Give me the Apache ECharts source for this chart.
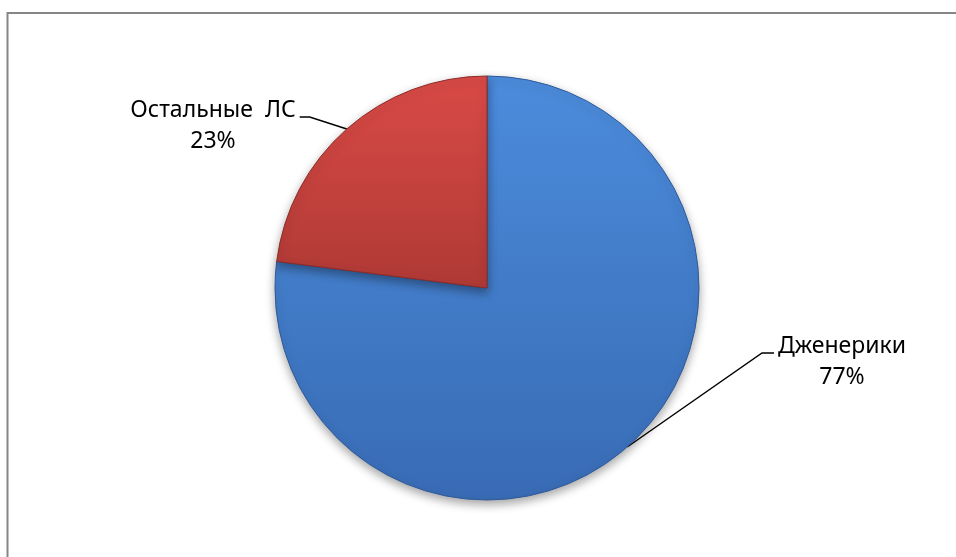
<!DOCTYPE html>
<html>
<head>
<meta charset="utf-8">
<script src="https://cdn.jsdelivr.net/npm/echarts@6/dist/echarts.min.js"></script>
<style>html,body{margin:0;padding:0;background:#fff}#c{width:956px;height:557px}</style>
</head>
<body>
<div id="c"></div>
<script>
const categories = ['Дженерики', 'Остальные  ЛС'];
const values = [77, 23];

const sliceColors = [
  ['#4C8CDC', '#386BB4', '#2F5A9A'],
  ['#D94A46', '#AF3935', '#8E2B28']
];
// label block centres (layout)
const labelCenters = [[842, 362], [213, 126]];

const chart = echarts.init(document.getElementById('c'), null, {renderer: 'canvas'});

const data = categories.map((name, i) => ({
  name: name,
  value: values[i],
  itemStyle: {
    color: {
      type: 'linear', x: 0, y: 0, x2: 0, y2: 1,
      colorStops: [{offset: 0, color: sliceColors[i][0]}, {offset: 1, color: sliceColors[i][1]}]
    },
    borderColor: sliceColors[i][2],
    borderWidth: 1
  }
}));

chart.setOption({
  backgroundColor: '#fff',
  animation: false,
  graphic: [{
    type: 'rect', silent: true,
    shape: {x: 7.5, y: 13, width: 1100, height: 700},
    style: {fill: 'none', stroke: '#868686', lineWidth: 2}
  }],
  series: [{
    type: 'pie',
    center: [487, 288],
    radius: 212,
    startAngle: 90,
    clockwise: true,
    silent: true,
    emphasis: {disabled: true},
    percentPrecision: 0,
    itemStyle: {
      shadowBlur: 10,
      shadowOffsetY: 4,
      shadowColor: 'rgba(0,0,0,0.35)'
    },
    label: {
      show: true,
      position: 'outside',
      formatter: '{b}\n{d}%',
      fontFamily: 'Noto Sans',
      fontSize: 23,
      lineHeight: 31,
      color: '#000',
      align: 'center'
    },
    labelLine: {
      show: true,
      length: 20,
      length2: 10,
      lineStyle: {color: '#000', width: 1.4}
    },
    labelLayout: function (p) {
      const c = labelCenters[p.dataIndex];
      const w = p.labelRect.width, h = p.labelRect.height;
      const left = c[0] - w / 2, right = c[0] + w / 2, top = c[1] - h / 2;
      const ay = top + 22;
      const anchor = p.labelLinePoints ? p.labelLinePoints[0] : [c[0], c[1]];
      let pts;
      if (p.dataIndex === 1) {
        pts = [anchor, [right + 14, ay], [right + 4, ay]];
      } else {
        pts = [anchor, [left - 16, ay], [left - 4, ay]];
      }
      return {
        x: c[0], y: c[1], align: 'center', verticalAlign: 'middle',
        labelLinePoints: pts
      };
    },
    data: data
  }]
});
</script>
</body>
</html>
